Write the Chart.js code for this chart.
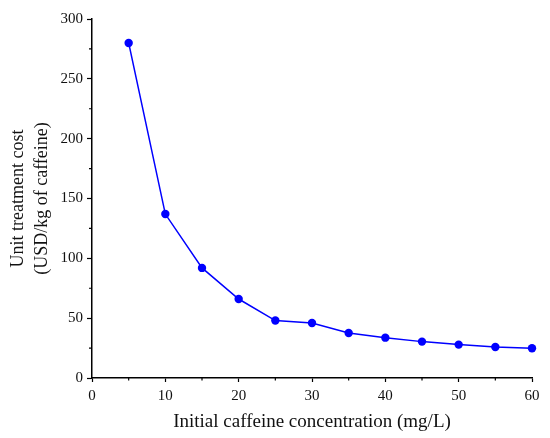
<!DOCTYPE html>
<html>
<head>
<meta charset="utf-8">
<script src="https://cdn.jsdelivr.net/npm/chart.js@4"></script>
<style>
  html, body { margin: 0; padding: 0; background: #fff; }
  #wrap { width: 550px; height: 438px; }
</style>
</head>
<body>
<div id="wrap"><canvas id="costChart" width="550" height="438"></canvas></div>
<script>
// concentration (mg/L) vs unit treatment cost (USD/kg of caffeine)
const concentrations = [5, 10, 15, 20, 25, 30, 35, 40, 45, 50, 55, 60];
const unitCosts = [280, 137, 92, 66, 48, 46, 37.6, 33.7, 30.4, 27.9, 25.9, 24.8];
const xMinorTicks = [5, 15, 25, 35, 45, 55];
const yMinorTicks = [25, 75, 125, 175, 225, 275];

const serif = "'Liberation Serif', 'Times New Roman', serif";

// Origin-style short minor ticks between the labelled ones
const minorTicksPlugin = {
    id: 'minorTicks',
    afterDraw(chart) {
        const ctx = chart.ctx;
        const xs = chart.scales.x;
        const ys = chart.scales.y;
        ctx.save();
        ctx.strokeStyle = '#000';
        ctx.lineWidth = 1.2;
        ctx.beginPath();
        xMinorTicks.forEach(v => {
            const px = xs.getPixelForValue(v);
            ctx.moveTo(px, xs.top);
            ctx.lineTo(px, xs.top + 2.5);
        });
        yMinorTicks.forEach(v => {
            const py = ys.getPixelForValue(v);
            ctx.moveTo(ys.right, py);
            ctx.lineTo(ys.right - 3, py);
        });
        ctx.stroke();
        ctx.restore();
    }
};

new Chart(document.getElementById('costChart').getContext('2d'), {
    type: 'line',
    data: {
        datasets: [{
            data: concentrations.map((c, i) => ({x: c, y: unitCosts[i]})),
            borderColor: '#0000ff',
            backgroundColor: '#0000ff',
            borderWidth: 1.5,
            pointRadius: 4.2,
            pointBorderWidth: 0,
            tension: 0,
            fill: false,
            clip: false
        }]
    },
    options: {
        responsive: false,
        animation: false,
        devicePixelRatio: 1,
        layout: {padding: {left: 0, top: 19, right: 18, bottom: 0}},
        plugins: {
            legend: {display: false},
            tooltip: {enabled: false}
        },
        scales: {
            x: {
                type: 'linear',
                min: 0,
                max: 60,
                afterFit(scale) { scale.height = 60; },
                border: {color: '#000', width: 1.5},
                grid: {drawOnChartArea: false, tickLength: 4, tickColor: '#000', tickWidth: 1.2},
                ticks: {
                    stepSize: 10,
                    padding: 5,
                    color: '#111',
                    font: {family: serif, size: 15}
                },
                title: {
                    display: true,
                    text: 'Initial caffeine concentration (mg/L)',
                    color: '#111',
                    font: {family: serif, size: 19},
                    padding: {top: 0, bottom: 5}
                }
            },
            y: {
                min: 0,
                max: 300,
                afterFit(scale) { scale.width = 92; },
                border: {color: '#000', width: 1.5},
                grid: {drawOnChartArea: false, tickLength: 5, tickColor: '#000', tickWidth: 1.2},
                ticks: {
                    stepSize: 50,
                    padding: 4,
                    color: '#111',
                    font: {family: serif, size: 15}
                },
                title: {
                    display: true,
                    text: ['Unit treatment cost', '(USD/kg of caffeine)'],
                    color: '#111',
                    font: {family: serif, size: 18, lineHeight: 1.33},
                    padding: {top: 6, bottom: 0}
                }
            }
        }
    },
    plugins: [minorTicksPlugin]
});
</script>
</body>
</html>
